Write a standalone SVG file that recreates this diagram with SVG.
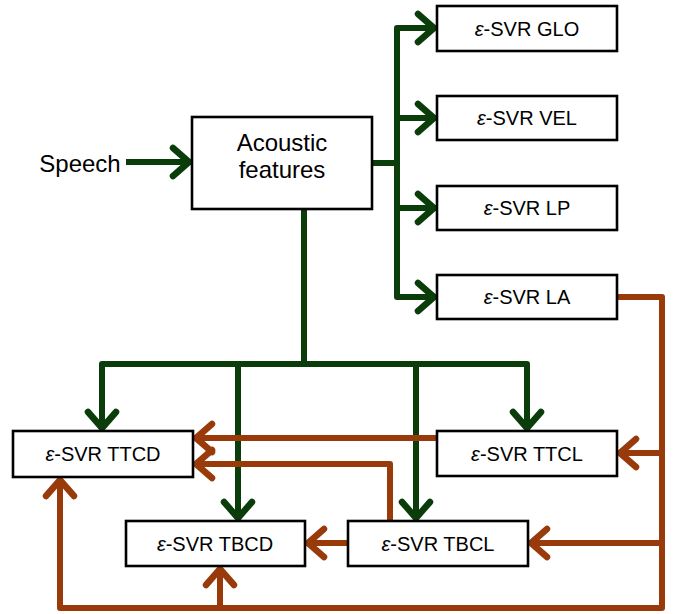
<svg xmlns="http://www.w3.org/2000/svg" width="674" height="614" viewBox="0 0 674 614">
<style>
.box{fill:#fff;stroke:#000;stroke-width:2.6}
.t{font-family:"Liberation Sans",Arial,sans-serif;font-size:20px;fill:#000;text-anchor:middle}
.big{font-size:24px}
.g{fill:none;stroke:#0b3d0b;stroke-width:6;stroke-linejoin:round}
.r{fill:none;stroke:#993a0a;stroke-width:6;stroke-linejoin:round}
.ga{marker-end:url(#ag)}
.ra{marker-end:url(#ar)}
</style>
<defs>
<marker id="ag" viewBox="-22 -18 26 36" refX="0" refY="0" markerWidth="26" markerHeight="36" markerUnits="userSpaceOnUse" orient="auto" overflow="visible">
<path d="M-16,-14 L0,0 L-16,14" fill="none" stroke="#0b3d0b" stroke-width="6.5" stroke-linecap="round" stroke-linejoin="round"/>
</marker>
<marker id="ar" viewBox="-22 -18 26 36" refX="0" refY="0" markerWidth="26" markerHeight="36" markerUnits="userSpaceOnUse" orient="auto" overflow="visible">
<path d="M-16,-14 L0,0 L-16,14" fill="none" stroke="#993a0a" stroke-width="6.5" stroke-linecap="round" stroke-linejoin="round"/>
</marker>
</defs>
<rect width="674" height="614" fill="#fff"/>
<g id="connectors">
<path class="g ga" d="M126,162 H189"/>
<path class="g" d="M372,163 H397"/>
<path class="g ga" d="M397,160 V28 H434"/>
<path class="g ga" d="M397,160 V297 H434"/>
<path class="g ga" d="M397,118 H434"/>
<path class="g ga" d="M397,208 H434"/>
<path class="g" d="M304,209 V364"/>
<path class="g ga" d="M304,364 H102 V428"/>
<path class="g ga" d="M304,364 H527 V428"/>
<path class="g ga" d="M238,364 V518"/>
<path class="g ga" d="M416,364 V518"/>
<path class="r ra" d="M617,297 H662 V608 H60 V480"/>
<path class="r ra" d="M220,608 V569"/>
<path class="r ra" d="M662,453 H620"/>
<path class="r ra" d="M662,543 H531"/>
<path class="r ra" d="M437,438 H196"/>
<path class="r ra" d="M390,521 V464 H196"/>
<path class="r ra" d="M348,543 H308"/>
</g>
<g id="speech"><text class="t big" x="80" y="172">Speech</text></g>
<g id="acoustic"><rect class="box" x="192" y="117" width="180" height="92"/><text class="t big" x="282" y="151">Acoustic</text><text class="t big" x="282" y="178">features</text></g>
<g id="glo"><rect class="box" x="437" y="6" width="180" height="45"/><text class="t" x="527" y="36"><tspan font-style="italic">ε</tspan>-SVR GLO</text></g>
<g id="vel"><rect class="box" x="437" y="96" width="180" height="44"/><text class="t" x="527" y="125"><tspan font-style="italic">ε</tspan>-SVR VEL</text></g>
<g id="lp"><rect class="box" x="437" y="186" width="180" height="44"/><text class="t" x="527" y="215"><tspan font-style="italic">ε</tspan>-SVR LP</text></g>
<g id="la"><rect class="box" x="437" y="275" width="180" height="44"/><text class="t" x="527" y="304"><tspan font-style="italic">ε</tspan>-SVR LA</text></g>
<g id="ttcd"><rect class="box" x="13" y="431" width="180" height="46"/><text class="t" x="103" y="461"><tspan font-style="italic">ε</tspan>-SVR TTCD</text></g>
<g id="ttcl"><rect class="box" x="437" y="431" width="180" height="45"/><text class="t" x="527" y="461"><tspan font-style="italic">ε</tspan>-SVR TTCL</text></g>
<g id="tbcd"><rect class="box" x="126" y="521" width="179" height="45"/><text class="t" x="215" y="551"><tspan font-style="italic">ε</tspan>-SVR TBCD</text></g>
<g id="tbcl"><rect class="box" x="348" y="521" width="180" height="45"/><text class="t" x="438" y="551"><tspan font-style="italic">ε</tspan>-SVR TBCL</text></g>
</svg>
